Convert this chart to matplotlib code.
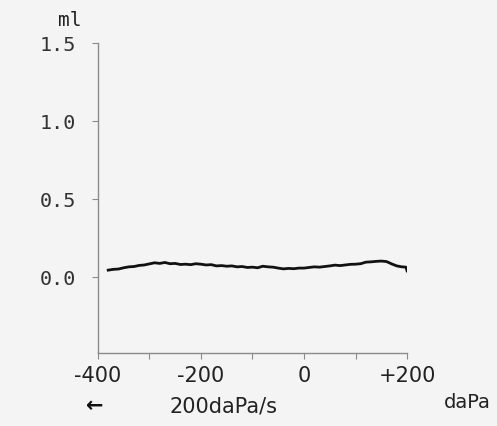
import matplotlib.pyplot as plt

# pressure (daPa) and compliance (ml)
pressure = [-380, -370, -360, -350, -340, -330, -320, -310, -300, -290, -280, -270,
            -260, -250, -240, -230, -220, -210, -200, -190, -180, -170, -160, -150,
            -140, -130, -120, -110, -100, -90, -80, -70, -60, -50, -40, -30, -20, -10,
            0, 10, 20, 30, 40, 50, 60, 70, 80, 90, 100, 110, 120, 130, 140, 150,
            160, 170, 180, 190, 198, 200]
volume = [0.045, 0.050, 0.052, 0.060, 0.066, 0.068, 0.075, 0.078, 0.085, 0.092, 0.088, 0.094,
          0.086, 0.088, 0.081, 0.083, 0.080, 0.086, 0.083, 0.078, 0.080, 0.072, 0.074, 0.070,
          0.072, 0.066, 0.068, 0.062, 0.064, 0.060, 0.070, 0.066, 0.064, 0.058, 0.053, 0.056, 0.054, 0.058,
          0.058, 0.062, 0.066, 0.064, 0.068, 0.072, 0.077, 0.074, 0.078, 0.082, 0.083, 0.086, 0.096, 0.098, 0.101, 0.103,
          0.100, 0.085, 0.072, 0.066, 0.064, 0.040]

x_ticks = [-400, -300, -200, -100, 0, 100, 200]
x_labels = ["-400", "", "-200", "", "0", "", "+200"]
y_ticks = [0.0, 0.5, 1.0, 1.5]
y_labels = ["0.0", "0.5", "1.0", "1.5"]

fig = plt.figure(figsize=(4.97, 4.26), dpi=100)
fig.patch.set_facecolor("#f4f4f4")
ax = fig.add_axes([0.197, 0.171, 0.622, 0.728])
ax.set_facecolor("#f4f4f4")

ax.plot(pressure, volume, color="#111111", lw=2.0)

ax.set_xlim(-400, 200)
ax.set_ylim(-0.487, 1.5)

for side in ("top", "right"):
    ax.spines[side].set_visible(False)
for side in ("left", "bottom"):
    ax.spines[side].set_color("#8a8a8a")
    ax.spines[side].set_linewidth(1.0)

ax.set_xticks(x_ticks)
ax.set_xticklabels(x_labels, fontsize=15, color="#222222", family="DejaVu Sans")
ax.set_yticks(y_ticks)
ax.set_yticklabels(y_labels, fontsize=14.5, color="#333333", family="DejaVu Sans Mono")
ax.tick_params(axis="both", direction="out", length=4, width=0.8, color="#8a8a8a")
ax.tick_params(axis="y", pad=12)
ax.tick_params(axis="x", pad=5)

fig.text(0.14, 0.952, "ml", fontsize=14, family="DejaVu Sans Mono", color="#222222",
         ha="center", va="center")
fig.text(0.19, 0.048, "\u2190", fontsize=15, color="#111111", ha="center", va="center",
         fontweight="bold")
fig.text(0.45, 0.046, "200daPa/s", fontsize=15, color="#222222", ha="center", va="center")
fig.text(0.94, 0.056, "daPa", fontsize=14, color="#222222", ha="center", va="center")

fig.savefig("out.png", dpi=100, facecolor=fig.get_facecolor())
